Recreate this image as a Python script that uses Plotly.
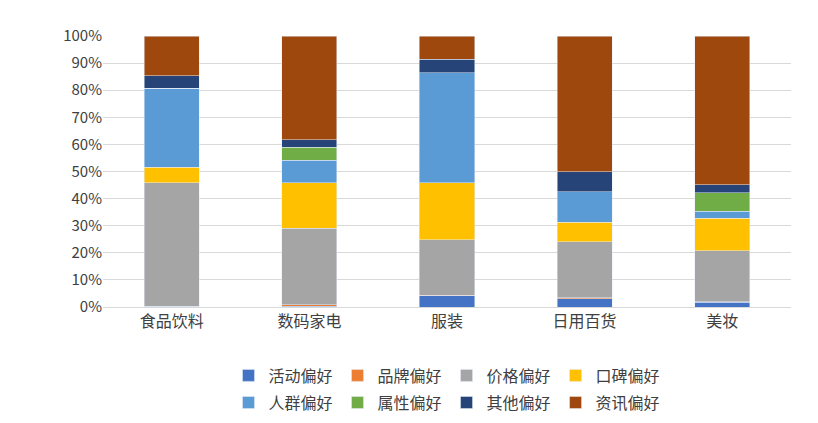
import plotly.graph_objects as go

categories = ["食品饮料", "数码家电", "服装", "日用百货", "美妆"]
series_names = ["活动偏好", "品牌偏好", "价格偏好", "口碑偏好", "人群偏好", "属性偏好", "其他偏好", "资讯偏好"]
colors = ["#4472C4", "#ED7D31", "#A5A5A5", "#FFC000", "#5B9BD5", "#70AD47", "#264478", "#9E480E"]

# share of each preference, %
huodong = [0.2, 0.3, 4.1, 3.0, 1.8]
pinpai = [0.1, 0.5, 0.3, 0.4, 0.2]
jiage = [45.6, 28.2, 20.4, 20.6, 18.7]
koubei = [5.6, 16.9, 21.1, 7.2, 12.0]
renqun = [29.3, 8.2, 40.6, 11.3, 2.6]
shuxing = [0.0, 4.9, 0.0, 0.0, 6.8]
qita = [4.5, 2.7, 4.9, 7.5, 3.0]
zixun = [14.7, 38.3, 8.6, 50.0, 54.9]

values = [huodong, pinpai, jiage, koubei, renqun, shuxing, qita, zixun]

fig = go.Figure()
for i, (name, color, vals) in enumerate(zip(series_names, colors, values)):
    fig.add_bar(x=categories, y=vals, name=name, marker_color=color, width=0.4,
                legend="legend" if i < 4 else "legend2")

leg = dict(orientation="h", x=0.5, xanchor="center", yanchor="top",
           font=dict(size=16), itemwidth=30, traceorder="normal",
           tracegroupgap=0, entrywidth=0)

fig.update_layout(
    barmode="stack",
    width=818,
    height=423,
    margin=dict(l=95, r=35, t=28, b=122),
    plot_bgcolor="white",
    paper_bgcolor="white",
    font=dict(family="Noto Sans CJK SC", size=15, color="#404040"),
    yaxis=dict(range=[0, 100], dtick=10, ticksuffix="%", showgrid=True,
               gridcolor="#D9D9D9", zeroline=False, tickfont=dict(size=15)),
    xaxis=dict(showline=True, linecolor="#D9D9D9", tickfont=dict(size=16)),
    legend=dict(leg, y=-0.19),
    legend2=dict(leg, y=-0.29),
)

fig.write_html("out.html")
